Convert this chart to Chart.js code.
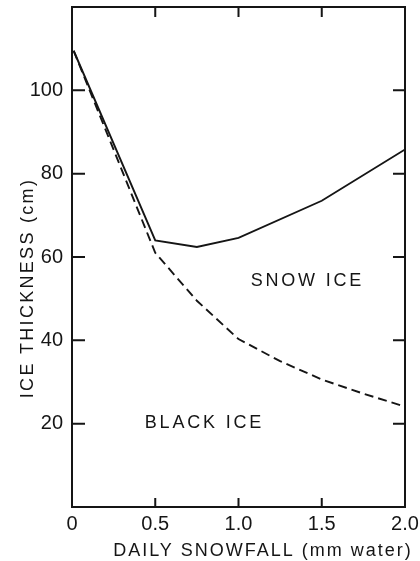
<!DOCTYPE html>
<html>
<head>
<meta charset="utf-8">
<script src="https://cdn.jsdelivr.net/npm/chart.js@4.4.1/dist/chart.umd.min.js"></script>
<style>
  html, body { margin: 0; padding: 0; background: #fff; }
  #wrap { width: 420px; height: 561px; }
</style>
</head>
<body>
<div id="wrap"><canvas id="c" width="420" height="561"></canvas></div>
<script>
// ---- data ----
const snowX = [0.01, 0.5, 0.75, 1.0, 1.5, 2.0];
const snowY = [109.5, 64.0, 62.4, 64.6, 73.5, 85.8];        // solid line (total ice)
const blackX = [0.01, 0.5, 0.75, 1.0, 1.25, 1.5, 1.75, 2.0];
const blackY = [109.5, 61.0, 49.5, 40.3, 35.0, 30.6, 27.2, 24.1]; // dashed line (black ice)
const xTicks = [0, 0.5, 1.0, 1.5, 2.0];
const xTickLabels = ['0', '0.5', '1.0', '1.5', '2.0'];
const yTicks = [20, 40, 60, 80, 100];
const xTitle = 'DAILY SNOWFALL (mm water)';
const yTitle = 'ICE THICKNESS (cm)';
const regionLabels = ['SNOW ICE', 'BLACK ICE'];
const regionX = [1.405, 0.787];
const regionY = [54.2, 20.2];

const INK = '#151515';
const FONT = '"Liberation Sans", Arial, Helvetica, sans-serif';

const toPts = (xs, ys) => xs.map((x, i) => ({ x: x, y: ys[i] }));

const framePlugin = {
  id: 'frame',
  afterDraw(chart) {
    const { ctx, chartArea: a, scales } = chart;
    const xs = scales.x, ys = scales.y;
    ctx.save();
    ctx.strokeStyle = INK;
    ctx.lineWidth = 2;
    ctx.strokeRect(a.left, a.top, a.right - a.left, a.bottom - a.top);
    // inward tick marks on all four sides
    ctx.beginPath();
    xTicks.forEach(v => {
      if (v <= xs.min || v >= xs.max) return;
      const px = xs.getPixelForValue(v);
      ctx.moveTo(px, a.bottom); ctx.lineTo(px, a.bottom - 9);
      ctx.moveTo(px, a.top); ctx.lineTo(px, a.top + 10);
    });
    yTicks.forEach(v => {
      const py = ys.getPixelForValue(v);
      ctx.moveTo(a.left, py); ctx.lineTo(a.left + 13, py);
      ctx.moveTo(a.right, py); ctx.lineTo(a.right - 12, py);
    });
    ctx.stroke();

    ctx.fillStyle = INK;
    ctx.textBaseline = 'middle';
    ctx.textAlign = 'center';
    // region labels
    ctx.font = '18px ' + FONT;
    ctx.letterSpacing = '2.8px';
    regionLabels.forEach((t, i) => {
      ctx.fillText(t, xs.getPixelForValue(regionX[i]) + 1.4, ys.getPixelForValue(regionY[i]));
    });
    // axis titles
    ctx.font = '18px ' + FONT;
    ctx.letterSpacing = '2px';
    ctx.fillText(xTitle, 263, 551);
    ctx.save();
    ctx.translate(28, 288);
    ctx.rotate(-Math.PI / 2);
    ctx.letterSpacing = '2.3px';
    ctx.fillText(yTitle, 0, 0);
    ctx.restore();
    ctx.restore();
  }
};

new Chart(document.getElementById('c'), {
  type: 'line',
  data: {
    datasets: [
      {
        label: 'Total ice',
        data: toPts(snowX, snowY),
        borderColor: INK,
        borderWidth: 1.9,
        pointRadius: 0,
        tension: 0,
        fill: false
      },
      {
        label: 'Black ice',
        data: toPts(blackX, blackY),
        borderColor: INK,
        borderWidth: 1.9,
        borderDash: [9, 5],
        pointRadius: 0,
        tension: 0,
        fill: false
      }
    ]
  },
  options: {
    responsive: false,
    animation: false,
    devicePixelRatio: 1,
    layout: { padding: { top: 7, right: 15, left: 0, bottom: 0 } },
    plugins: { legend: { display: false }, tooltip: { enabled: false }, title: { display: false } },
    scales: {
      x: {
        type: 'linear',
        min: 0, max: 2,
        afterFit(s) { s.height = 54; s.paddingLeft = 0; s.paddingRight = 0; },
        afterBuildTicks(s) { s.ticks = xTicks.map(v => ({ value: v })); },
        grid: { display: false, drawTicks: false },
        border: { display: false },
        ticks: {
          padding: 5,
          color: INK,
          font: { family: FONT, size: 20 },
          autoSkip: false,
          maxRotation: 0,
          callback: (v) => { const i = xTicks.indexOf(v); return i >= 0 ? xTickLabels[i] : ''; }
        }
      },
      y: {
        type: 'linear',
        min: 0, max: 120,
        afterFit(s) { s.width = 72; s.paddingTop = 0; s.paddingBottom = 0; },
        afterBuildTicks(s) { s.ticks = yTicks.map(v => ({ value: v })); },
        grid: { display: false, drawTicks: false },
        border: { display: false },
        ticks: {
          padding: 9,
          color: INK,
          font: { family: FONT, size: 20 },
          autoSkip: false,
          callback: (v) => String(v)
        }
      }
    }
  },
  plugins: [framePlugin]
});
</script>
</body>
</html>
